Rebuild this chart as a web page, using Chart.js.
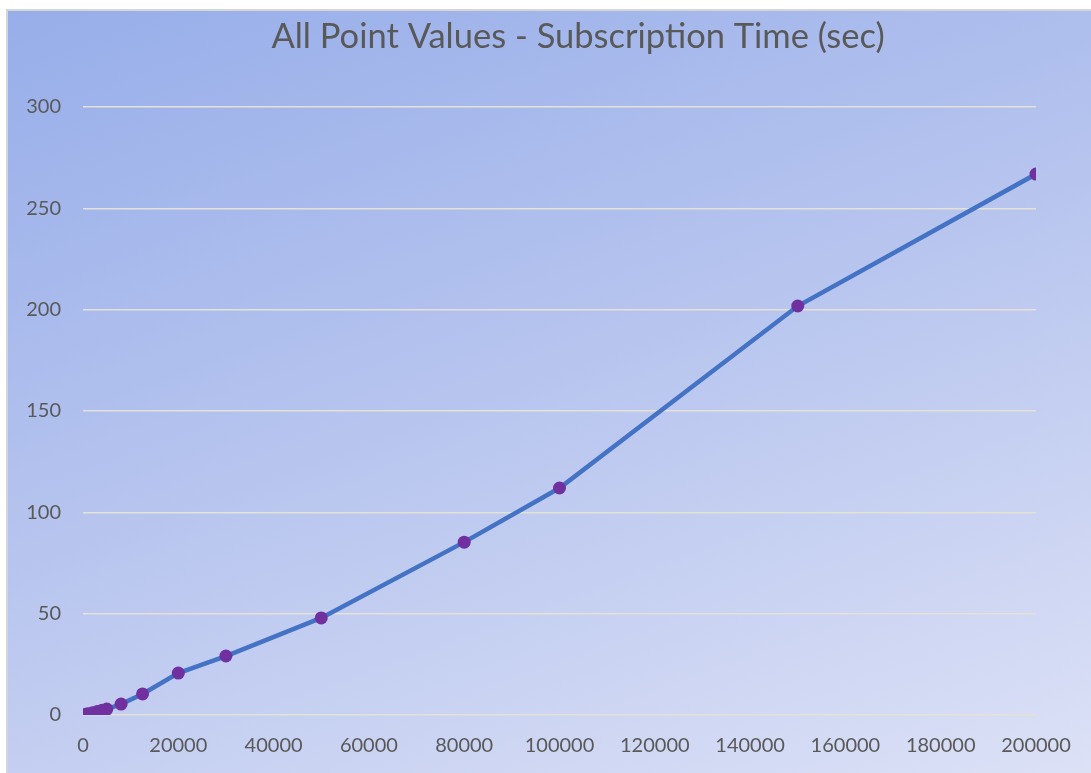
<!DOCTYPE html>
<html>
<head>
<meta charset="utf-8">
<script src="https://cdn.jsdelivr.net/npm/chart.js@4"></script>
<style>
  html, body { margin: 0; padding: 0; background: #fff; }
  #wrap {
    position: absolute; left: 6px; top: 9px; width: 1085px; height: 764px;
    border-left: 2px solid #d6d6d6; border-top: 2px solid #d6d6d6;
    background: linear-gradient(160deg, #97aeea 0%, #b5c3ee 45%, #dce1f6 100%);
  }
  #chart { display: block; }
</style>
</head>
<body>
<div id="wrap"><canvas id="chart" width="1083" height="762"></canvas></div>
<script>
const kolicine = [500, 1000, 2000, 3000, 4000, 5000, 8000, 12500, 20000, 30000, 50000, 80000, 100000, 150000, 200000];
const vremena = [0.3, 0.6, 1.1, 1.7, 2.3, 2.9, 5.4, 10.4, 20.7, 29.1, 47.9, 85.3, 112, 201.8, 266.9];
const naslov = 'All Point Values - Subscription Time (sec)';

const tocke = kolicine.map((x, i) => ({ x, y: vremena[i] }));
const sivo = '#595959';
const font = 'Lato, "Open Sans", sans-serif';

// naslov nije centriran na cijelu sirinu, pa ga crtamo sami
const naslovPlugin = {
    id: 'naslov',
    afterDraw(chart) {
        const ctx = chart.ctx;
        ctx.save();
        ctx.fillStyle = sivo;
        ctx.font = '34.5px ' + font;
        ctx.textAlign = 'center';
        ctx.textBaseline = 'alphabetic';
        ctx.fillText(naslov, 570, 37);
        ctx.restore();
    }
};

new Chart(document.getElementById('chart'), {
    type: 'line',
    data: {
        datasets: [{
            data: tocke,
            borderColor: '#4472c4',
            borderWidth: 4.5,
            backgroundColor: '#7030a0',
            pointBackgroundColor: '#7030a0',
            pointBorderColor: '#7030a0',
            pointRadius: 6.5,
            pointBorderWidth: 0,
            tension: 0
        }]
    },
    options: {
        responsive: false,
        animation: false,
        layout: { padding: { left: 0, right: 55, top: 96, bottom: 0 } },
        plugins: {
            legend: { display: false },
            tooltip: { enabled: false },
            title: { display: false }
        },
        scales: {
            x: {
                type: 'linear',
                min: 0,
                max: 200000,
                border: { display: false },
                grid: { display: false, drawTicks: false },
                ticks: {
                    stepSize: 20000,
                    color: sivo,
                    padding: 19,
                    maxRotation: 0,
                    font: { family: font, size: 20 },
                    callback: v => String(v)
                },
                afterFit: s => { s.height = 58; }
            },
            y: {
                min: 0,
                max: 300,
                border: { display: false },
                grid: { color: '#e4e1d6', lineWidth: 1.5, drawTicks: false },
                ticks: {
                    stepSize: 50,
                    color: sivo,
                    padding: 22,
                    font: { family: font, size: 20 },
                    callback: v => String(v)
                },
                afterFit: s => { s.width = 75; }
            }
        }
    },
    plugins: [naslovPlugin]
});
</script>
</body>
</html>
